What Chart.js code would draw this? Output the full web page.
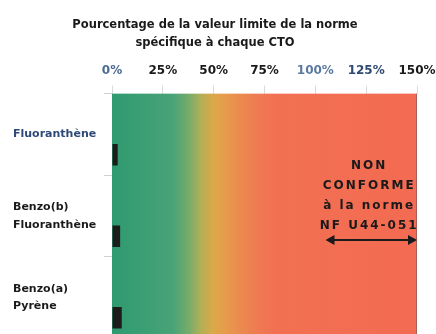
<!DOCTYPE html>
<html lang="fr">
<head>
<meta charset="utf-8">
<script src="https://cdn.jsdelivr.net/npm/chart.js@4"></script>
<style>
  html, body { margin: 0; padding: 0; background: #fff; overflow: hidden; }
  #wrap { position: relative; width: 436px; height: 350px; }
</style>
</head>
<body>
<div id="wrap"><canvas id="chart-cto"></canvas></div>
<script>
// Données
const categories = ['Fluoranthène', ['Benzo(b)', 'Fluoranthène'], ['Benzo(a)', 'Pyrène']]
const pourcentages = [2.8, 4, 4.8]
const graduations = [0, 25, 50, 75, 100, 125, 150]
const titre = ['Pourcentage de la valeur limite de la norme', 'spécifique à chaque CTO']
const mentionNonConforme = ['NON', 'CONFORME', 'à la norme', 'NF U44-051']

const police = "'DejaVu Sans', sans-serif"

// Fond dégradé vert -> rouge derrière les barres
const fondDegrade = {
  id: 'fondDegrade',
  beforeDatasetsDraw(chart) {
    const { ctx, chartArea, scales } = chart
    const x0 = scales.x.getPixelForValue(graduations[0])
    const x1 = scales.x.getPixelForValue(graduations[graduations.length - 1])
    const g = ctx.createLinearGradient(x0, 0, x1, 0)
    g.addColorStop(0, '#2f9a70')
    g.addColorStop(0.2, '#48a377')
    g.addColorStop(0.253, '#78ac6a')
    g.addColorStop(0.293, '#b5af55')
    g.addColorStop(0.333, '#dca84a')
    g.addColorStop(0.373, '#e79a4c')
    g.addColorStop(0.42, '#eb8a4f')
    g.addColorStop(0.48, '#ef7a52')
    g.addColorStop(0.533, '#f27052')
    g.addColorStop(1, '#f36b52')
    ctx.save()
    ctx.fillStyle = g
    ctx.fillRect(x0, chartArea.top, x1 - x0, chartArea.bottom - chartArea.top)
    ctx.strokeStyle = 'rgba(90,90,90,0.5)'
    ctx.lineWidth = 1
    ctx.beginPath()
    ctx.moveTo(x1 - 0.5, chartArea.top)
    ctx.lineTo(x1 - 0.5, chartArea.bottom)
    ctx.stroke()
    ctx.restore()
  }
}

// Texte "NON CONFORME" et flèche double
const mention = {
  id: 'mention',
  afterDatasetsDraw(chart) {
    const { ctx, scales } = chart
    const cx = scales.x.getPixelForValue(125)
    const cy = scales.y.getPixelForValue(1)
    ctx.save()
    ctx.fillStyle = '#1a1a1a'
    ctx.font = 'bold 12px ' + police
    ctx.textAlign = 'center'
    ctx.textBaseline = 'middle'
    ctx.letterSpacing = '2px'
    mentionNonConforme.forEach((ligne, i) => {
      ctx.fillText(ligne, cx + 3, cy - 50 + i * 20)
    })
    // flèche
    const xa = scales.x.getPixelForValue(105)
    const xb = scales.x.getPixelForValue(150)
    const ya = cy + 24
    ctx.strokeStyle = '#1a1a1a'
    ctx.lineWidth = 2
    ctx.beginPath()
    ctx.moveTo(xa + 4, ya)
    ctx.lineTo(xb - 4, ya)
    ctx.stroke()
    ctx.beginPath()
    ctx.moveTo(xa, ya); ctx.lineTo(xa + 9, ya - 5); ctx.lineTo(xa + 9, ya + 5); ctx.closePath()
    ctx.moveTo(xb, ya); ctx.lineTo(xb - 9, ya - 5); ctx.lineTo(xb - 9, ya + 5); ctx.closePath()
    ctx.fill()
    ctx.restore()
  }
}

function initializeChart() {
  const ctx = document.getElementById('chart-cto')

  new Chart(ctx, {
    type: 'bar',
    data: {
      labels: categories,
      datasets: [
        // série vide pour placer la barre dans la moitié basse de chaque ligne
        { data: categories.map(() => null), backgroundColor: 'transparent' },
        { data: pourcentages, backgroundColor: '#1c1c1c', borderWidth: 0 }
      ]
    },
    options: {
      indexAxis: 'y',
      responsive: true,
      maintainAspectRatio: false,
      animation: false,
      layout: { padding: { left: 13, right: 19, top: 0, bottom: 0 } },
      datasets: { bar: { categoryPercentage: 1, barPercentage: 0.53 } },
      plugins: {
        legend: { display: false },
        tooltip: { enabled: false },
        title: {
          display: true,
          text: titre,
          color: '#1a1a1a',
          font: { family: police, size: 11.5, weight: 'bold', lineHeight: 1.55 },
          padding: { top: 16, bottom: 4 }
        }
      },
      scales: {
        x: {
          position: 'top',
          min: graduations[0],
          max: graduations[graduations.length - 1],
          afterBuildTicks(scale) {
            scale.ticks = graduations.map(v => ({ value: v }))
          },
          afterFit(scale) {
            scale.height = 38
            // la marge est fixée par layout.padding
            scale.paddingLeft = 0
            scale.paddingRight = 0
          },
          border: { display: false },
          grid: { drawOnChartArea: false, tickLength: 8, color: 'rgba(150,150,150,0.35)' },
          ticks: {
            color: ['#4a6a92', '#1a1a1a', '#1a1a1a', '#1a1a1a', '#5a7aa0', '#2f4a70', '#1a1a1a'],
            padding: 8,
            maxRotation: 0,
            font: { family: police, size: 12, weight: 'bold' },
            callback: v => v + '%'
          }
        },
        y: {
          afterFit(scale) { scale.width = 99 },
          border: { display: false },
          grid: { drawOnChartArea: false, tickLength: 8, color: 'rgba(150,150,150,0.45)' },
          ticks: {
            crossAlign: 'far',
            color: ['#2f4a78', '#1a1a1a', '#1a1a1a'],
            font: { family: police, size: 11, weight: 'bold', lineHeight: 1.6 }
          }
        }
      }
    },
    plugins: [fondDegrade, mention]
  })
}

window.addEventListener('load', () => {
  initializeChart()
})
</script>
</body>
</html>
